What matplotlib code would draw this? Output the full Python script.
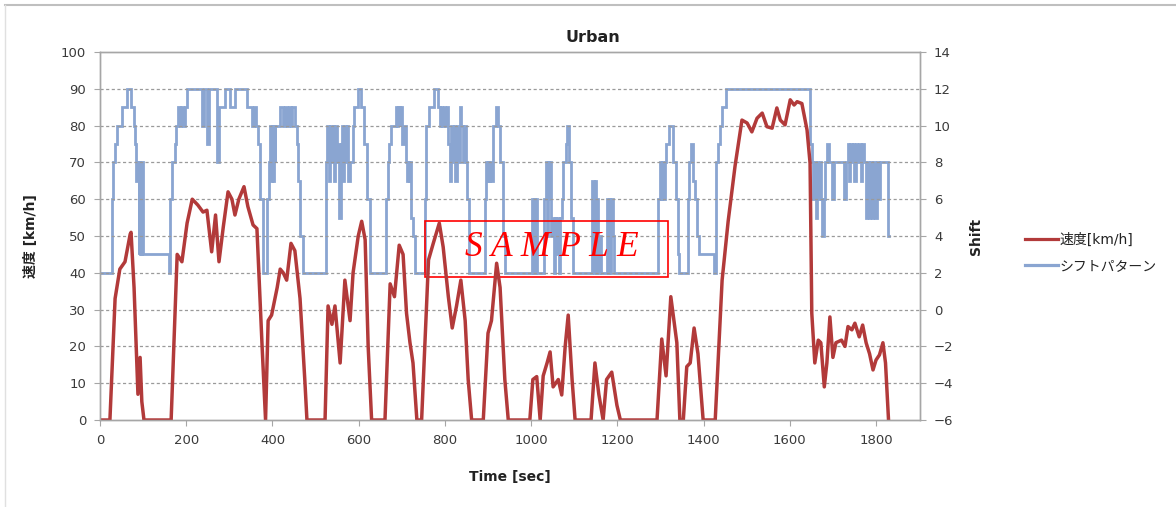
import matplotlib
matplotlib.use("Agg")
import matplotlib.pyplot as plt
from matplotlib.lines import Line2D
from matplotlib.patches import Rectangle

plt.rcParams['font.family'] = ['DejaVu Sans', 'Noto Sans CJK JP']

# ---- data: vehicle speed [km/h] vs time [s]
speed_t = [0, 19, 23, 35, 46, 58, 70, 72, 79, 88, 93, 97, 102,
           165, 179, 190, 202, 214, 227, 239, 248, 259, 268, 276, 286, 297, 306, 313, 322, 334, 343, 355, 364, 376, 384,
           390, 398, 411, 418, 425, 433, 443, 452, 464, 475, 480,
           522, 529, 538, 545, 557, 568, 580, 587, 599, 607, 615, 622, 630,
           661, 673, 683, 694, 703, 711, 719, 726, 735,
           746, 762, 773, 787, 796, 808, 817, 827, 837, 847, 854, 862,
           889, 900, 908, 920, 928, 939, 947,
           997, 1004, 1013, 1021, 1028, 1037, 1044, 1051, 1063, 1071, 1079, 1086, 1095, 1102,
           1139, 1148, 1157, 1167, 1175, 1187, 1199, 1207,
           1292, 1303, 1313, 1324, 1338, 1345, 1353, 1361, 1369, 1378, 1387, 1399,
           1427, 1443, 1457, 1473, 1489, 1501, 1512, 1524, 1536, 1547, 1559, 1570, 1578, 1589, 1601,
           1610, 1617, 1628, 1640, 1647, 1651, 1658, 1666, 1672, 1680, 1686, 1693, 1700, 1707, 1720,
           1728, 1735, 1744, 1751, 1761, 1769, 1777, 1785, 1793, 1800, 1808, 1816, 1822, 1829]
speed_v = [0, 0, 0, 33, 41, 43, 50.5, 51, 36, 7, 17, 5, 0,
           0, 45, 43, 53.5, 60, 58.4, 56.5, 57, 45.7, 55.7, 43, 52.5, 62, 60, 55.7, 60, 63.4, 58, 53, 52, 20, 0,
           27, 28.5, 36, 41, 40, 38, 48, 46, 33, 11, 0,
           0, 31, 26, 31, 15.5, 38, 27, 40, 50, 54, 49, 20, 0,
           0, 37, 33.5, 47.5, 45, 29, 21, 15.5, 0,
           0, 43.5, 48, 53.5, 47, 33.5, 25, 31, 38, 27, 11, 0,
           0, 23.6, 27, 42.6, 36, 11, 0,
           0, 11, 11.8, 0, 12, 15.5, 18.5, 9, 11, 6.8, 20, 28.5, 11, 0,
           0, 15.5, 7, 0, 11, 13, 4, 0,
           0, 22, 12, 33.5, 21, 0, 0, 14.5, 15.5, 25, 18, 0,
           0, 38, 54, 69, 81.5, 80.7, 78.3, 82, 83.4, 79.7, 79.3, 84.8, 81.5, 80.2, 87,
           85.6, 86.5, 86, 78.8, 69.8, 29, 15.5, 21.7, 21, 9, 15.5, 28, 17, 21, 21.7,
           20, 25.4, 24.5, 26.3, 22.6, 25.8, 21, 18, 13.6, 16.3, 17.7, 21, 15.5, 0]

# ---- data: shift pattern (gear step) vs time [s]
shift_t = [0, 27, 30, 34, 39, 50, 62, 72, 78, 81, 84, 88, 90, 91, 93, 94, 96, 97, 99,
           160, 163, 168, 173, 177, 182, 186, 189, 193, 196, 201, 237, 241, 249, 253, 271, 275, 290, 302, 313,
           342, 352, 357, 362, 367, 372, 377,
           388, 392, 395, 397, 399, 401, 403, 405, 407, 418, 424, 428, 434, 438, 443, 446, 452, 456, 460, 465, 470,
           525, 527, 531, 534, 537, 540, 543, 546, 549, 552, 555, 558, 561, 564, 567, 570, 573, 576, 580, 586, 590,
           598, 606, 613, 619, 626,
           664, 667, 671, 676, 686, 690, 692, 695, 697, 700, 706, 709, 712, 714, 716, 718, 721, 727, 731,
           754, 757, 763, 775, 784, 788, 791, 794, 797, 800, 804, 808, 812, 815, 818, 821, 824, 828, 831, 834,
           838, 841, 844, 848, 852, 857,
           893, 895, 898, 900, 903, 905, 908, 911, 918, 924, 928, 934, 940,
           1001, 1004, 1006, 1009, 1011, 1014, 1030, 1034, 1037, 1039, 1042, 1044, 1047, 1050, 1052, 1055, 1058,
           1061, 1064, 1067, 1071, 1075, 1080, 1084, 1089, 1092, 1096,
           1142, 1146, 1148, 1150, 1153, 1156, 1159, 1162, 1176, 1179, 1181, 1184, 1186, 1189, 1192,
           1295, 1298, 1301, 1304, 1307, 1310, 1314, 1320, 1330, 1335, 1340, 1343, 1363, 1367, 1371, 1375, 1380,
           1384, 1389, 1424, 1429, 1433, 1438, 1443, 1453,
           1648, 1651, 1654, 1657, 1660, 1663, 1666, 1669, 1672, 1675, 1679, 1682, 1686, 1690, 1698, 1702, 1726,
           1730, 1734, 1737, 1740, 1744, 1747, 1750, 1753, 1757, 1760, 1764, 1768, 1772, 1776, 1779, 1783, 1787,
           1790, 1794, 1798, 1802, 1806, 1810, 1828, 1830]
shift_v = [2, 6, 8, 9, 10, 11, 12, 11, 10, 9, 7, 8, 3, 8, 3, 8, 3, 8, 3,
           2, 6, 8, 9, 10, 11, 10, 11, 10, 11, 12, 10, 12, 9, 12, 8, 11, 12, 11, 12,
           11, 10, 11, 10, 9, 6, 2,
           6, 8, 10, 7, 10, 7, 10, 8, 10, 11, 10, 11, 10, 11, 10, 11, 10, 9, 7, 4, 2,
           8, 10, 7, 10, 8, 10, 7, 10, 8, 9, 5, 9, 10, 7, 10, 8, 10, 7, 8, 10, 11,
           12, 11, 9, 6, 2,
           6, 8, 9, 10, 11, 10, 11, 10, 11, 9, 10, 8, 7, 8, 7, 8, 5, 4, 2,
           6, 10, 11, 12, 11, 10, 11, 10, 11, 10, 11, 9, 7, 10, 8, 10, 7, 10, 8, 11,
           10, 8, 10, 8, 6, 2,
           6, 8, 7, 8, 7, 8, 7, 10, 11, 10, 8, 4, 2,
           6, 2, 6, 2, 6, 2, 6, 8, 4, 8, 6, 8, 4, 5, 2, 5, 3,
           5, 2, 5, 6, 8, 9, 10, 8, 5, 2,
           7, 2, 7, 2, 6, 2, 4, 2, 6, 2, 6, 2, 6, 4, 2,
           6, 8, 6, 8, 6, 8, 9, 10, 8, 6, 3, 2, 6, 8, 9, 7, 6,
           4, 3, 2, 8, 9, 10, 11, 12,
           9, 8, 6, 8, 5, 8, 6, 8, 6, 4, 6, 8, 9, 8, 6, 8, 6,
           8, 9, 7, 9, 8, 9, 7, 9, 8, 9, 7, 9, 8, 5, 8, 5, 8,
           5, 8, 5, 8, 6, 8, 4, 4]

x_ticks = [0, 200, 400, 600, 800, 1000, 1200, 1400, 1600, 1800]
left_ticks = [0, 10, 20, 30, 40, 50, 60, 70, 80, 90, 100]
right_ticks = [-6, -4, -2, 0, 2, 4, 6, 8, 10, 12, 14]

title = "Urban"
xlabel = "Time [sec]"
ylabel_left = "速度 [km/h]"
ylabel_right = "Shift"
legend_labels = ["速度[km/h]", "シフトパターン"]

W, H = 1176, 507
fig = plt.figure(figsize=(W / 100, H / 100), dpi=100)
fig.patch.set_facecolor("white")
ax = fig.add_axes([100 / W, 1 - 420 / H, 820 / W, 368 / H])
ax2 = ax.twinx()
ax.set_zorder(ax2.get_zorder() + 1)
ax.patch.set_visible(False)

red = "#B23A3A"
blue = "#8AA5D1"
tick_col = "#3A3A3A"
axis_col = "#A6A6A6"

ax2.plot(shift_t, shift_v, color=blue, lw=2.0, drawstyle="steps-post", solid_joinstyle="miter")
ax.plot(speed_t, speed_v, color=red, lw=2.5, solid_joinstyle="round")

ax.set_xlim(0, 1902)
ax.set_ylim(0, 100)
ax2.set_ylim(-6, 14)
ax.set_xticks(x_ticks)
ax.set_yticks(left_ticks)
ax2.set_yticks(right_ticks)

for y in left_ticks[1:-1]:
    ax.axhline(y, color="#9A9A9A", lw=0.9, ls=(0, (2.5, 2.0)), zorder=0)

for a in (ax, ax2):
    for s in a.spines.values():
        s.set_color(axis_col)
        s.set_linewidth(1.0)
    a.tick_params(axis="both", direction="out", length=4, width=0.8, color=axis_col,
                  labelsize=9.5, labelcolor=tick_col)
ax.tick_params(axis="y", pad=6)
ax2.tick_params(axis="y", pad=6)
ax.tick_params(axis="x", pad=6)

fig.text(593 / W, 1 - 37 / H, title, ha="center", va="center", fontsize=11.5,
         fontweight="bold", color="#222222")
fig.text(510 / W, 1 - 477 / H, xlabel, ha="center", va="center", fontsize=10,
         fontweight="bold", color="#222222")
fig.text(31 / W, 1 - 236 / H, ylabel_left, ha="center", va="center", fontsize=10,
         fontweight="bold", rotation=90, color="#222222")
fig.text(976 / W, 1 - 236 / H, ylabel_right, ha="center", va="center", fontsize=10,
         fontweight="bold", rotation=90, color="#222222")

handles = [Line2D([], [], color=red, lw=2.3), Line2D([], [], color=blue, lw=2.3)]
fig.legend(handles, legend_labels, loc="center left",
           bbox_to_anchor=(1012 / W, 1 - 253 / H), frameon=False, fontsize=10,
           handlelength=2.4, handletextpad=0.1, labelspacing=0.9, labelcolor="#222222")

# watermark
fig.add_artist(Rectangle((425 / W, 1 - 277 / H), 243 / W, 56 / H, transform=fig.transFigure,
                         fill=False, edgecolor="#FF0000", lw=1.2))
fig.text(552 / W, 1 - 248 / H, "S A M P L E", ha="center", va="center", fontsize=25.5,
         color="#FF0000", family="Liberation Serif", style="italic")

# outer chart border (top and left)
fig.add_artist(Line2D([5 / W, 1], [1 - 5 / H, 1 - 5 / H], transform=fig.transFigure,
                      color="#BFBFBF", lw=1.5))
fig.add_artist(Line2D([5 / W, 5 / W], [0, 1 - 5 / H], transform=fig.transFigure,
                      color="#E0E0E0", lw=1.0))

fig.savefig("out.png", dpi=100)
